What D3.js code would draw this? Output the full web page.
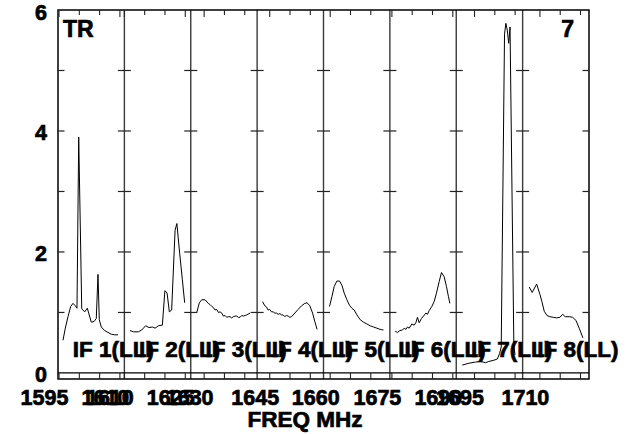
<!DOCTYPE html>
<html>
<head>
<meta charset="utf-8">
<script src="https://cdn.jsdelivr.net/npm/d3@7"></script>
<style>
    body { margin: 0; background: #fff; }
    svg { display: block; }
    text { font-family: 'Liberation Sans', Arial, Helvetica, sans-serif; font-weight: 700; fill: #000; stroke: #000; stroke-width: 0.7px; }
</style>
</head>
<body>
<div id="chart"></div>
<script>
// one panel per IF, each with its own frequency range (MHz)
const ifNames = ['IF 1(LL)', 'IF 2(LL)', 'IF 3(LL)', 'IF 4(LL)', 'IF 5(LL)', 'IF 6(LL)', 'IF 7(LL)', 'IF 8(LL)'];
const panelStart = [1594.75, 1610.0, 1626.7, 1641.9, 1658.35, 1674.5, 1690.5, 1705.74];
const panelSpan = 16.35;
const yMinorTicks = [1, 2, 3, 4, 5];
const yLabels = [0, 2, 4, 6];

// [freq MHz, amplitude]
const if1 = [[1595.98, 0.54], [1596.55, 0.74], [1597.21, 0.93], [1597.88, 1.10], [1598.44, 1.15], [1599.01, 1.11],
    [1599.43, 1.07], [1599.85, 3.90], [1600.6, 1.06], [1601.33, 1.01], [1601.97, 1.07], [1602.31, 0.99],
    [1602.95, 0.84], [1603.62, 0.85], [1604.18, 0.90], [1604.6, 1.63], [1604.92, 0.88], [1605.41, 0.76],
    [1606.25, 0.70], [1607.06, 0.67], [1607.88, 0.64], [1608.71, 0.63], [1609.53, 0.63]];
const if2 = [[1611.40, 0.70], [1612.22, 0.68], [1613.45, 0.68], [1614.26, 0.71], [1615.25, 0.78], [1616.08, 0.75],
    [1616.90, 0.76], [1617.56, 0.74], [1618.37, 0.78], [1619.36, 0.79], [1619.98, 1.36], [1620.52, 1.32],
    [1621.08, 1.01], [1621.65, 1.04], [1622.49, 2.36], [1622.93, 2.47], [1623.62, 1.98], [1624.29, 1.54],
    [1624.85, 1.16]];
const if3 = [[1628.18, 1.00], [1628.82, 1.16], [1629.41, 1.21], [1630.22, 1.21], [1631.03, 1.15], [1631.45, 1.13],
    [1631.87, 1.10], [1632.3, 1.08], [1632.69, 1.04], [1633.1, 1.05], [1633.50, 1.00], [1633.9, 1.01],
    [1634.34, 0.99], [1634.73, 0.94], [1635.15, 0.95], [1635.57, 0.92], [1636.0, 0.93], [1636.38, 0.93],
    [1636.8, 0.91], [1637.19, 0.93], [1637.6, 0.94], [1638.03, 0.94], [1638.4, 0.92], [1638.84, 0.92],
    [1639.25, 0.95], [1639.66, 0.94], [1640.1, 0.95], [1640.49, 0.96], [1641.31, 0.99]];
const if4 = [[1643.23, 1.18], [1643.80, 1.11], [1644.2, 1.09], [1644.61, 1.04], [1645.0, 1.05], [1645.45, 1.01],
    [1645.85, 1.01], [1646.26, 0.99], [1646.65, 0.99], [1647.07, 0.97], [1647.5, 0.98], [1647.91, 0.96],
    [1648.3, 0.96], [1648.72, 0.93], [1649.1, 0.95], [1649.54, 0.94], [1649.95, 0.92], [1650.37, 0.93],
    [1651.19, 0.99], [1652.00, 1.05], [1652.84, 1.11], [1653.65, 1.15], [1654.22, 1.16], [1654.88, 1.11],
    [1655.56, 0.99], [1656.11, 0.85], [1656.68, 0.72]];
const if5 = [[1659.83, 1.10], [1660.42, 1.26], [1660.99, 1.43], [1661.65, 1.52], [1662.29, 1.52], [1662.88, 1.45],
    [1663.45, 1.32], [1664.11, 1.21], [1664.75, 1.12], [1665.34, 1.07], [1665.91, 1.04], [1666.58, 0.96],
    [1667.39, 0.88], [1668.20, 0.84], [1669.04, 0.81], [1669.85, 0.78], [1670.66, 0.76], [1671.50, 0.74],
    [1672.31, 0.72], [1673.12, 0.71]];
const if6 = [[1675.81, 0.69], [1676.37, 0.67], [1676.96, 0.70], [1677.60, 0.71], [1678.02, 0.74], [1678.44, 0.72],
    [1678.83, 0.76], [1679.25, 0.74], [1679.92, 0.81], [1680.49, 0.79], [1680.90, 0.83], [1681.30, 0.92],
    [1681.72, 0.83], [1682.28, 0.90], [1682.78, 0.94], [1683.37, 0.99], [1683.76, 0.97], [1684.18, 1.03],
    [1684.84, 1.10], [1685.41, 1.18], [1685.98, 1.32], [1686.64, 1.51], [1687.21, 1.66], [1687.87, 1.59],
    [1688.44, 1.43], [1688.93, 1.26], [1689.28, 1.15]];
const if7 = [[1691.98, 0.13], [1693.60, 0.16], [1695.25, 0.18], [1696.49, 0.19], [1697.72, 0.17], [1698.53, 0.19],
    [1699.76, 0.21], [1700.60, 0.23], [1701.17, 0.32], [1701.58, 0.43], [1702.39, 5.60], [1702.72, 5.78],
    [1703.06, 5.67], [1703.43, 5.45], [1703.75, 5.72], [1704.69, 0.45], [1704.98, 0.30]];
const if8 = [[1707.37, 1.42], [1708.10, 1.33], [1709.19, 1.47], [1710.00, 1.30], [1710.49, 1.18], [1711.06, 1.02],
    [1711.73, 0.95], [1712.46, 0.93], [1713.28, 0.92], [1714.11, 0.91], [1714.93, 0.92], [1715.59, 0.97],
    [1716.23, 0.93], [1717.22, 0.93], [1718.06, 0.92], [1718.87, 0.87], [1719.68, 0.74], [1720.59, 0.58]];

const spectra = [if1, if2, if3, if4, if5, if6, if7, if8];

const width = 627;
const height = 434;
const margin = { top: 10, left: 58, right: 38, bottom: 55 };
const plotRight = width - margin.right;
const plotBottom = height - margin.bottom;
const panelWidth = (plotRight - margin.left) / ifNames.length;

const svg = d3.select('#chart')
    .append('svg')
    .attr('width', width)
    .attr('height', height);

const y = d3.scaleLinear()
    .domain([-0.1, 6])
    .range([plotBottom, margin.top]);

const xScales = panelStart.map((s, i) => d3.scaleLinear()
    .domain([s, s + panelSpan])
    .range([margin.left + i * panelWidth, margin.left + (i + 1) * panelWidth]));

// spectra
const line = x => d3.line().x(d => x(d[0])).y(d => y(d[1]));

svg.append('g')
    .selectAll('path')
    .data(spectra)
    .join('path')
    .attr('d', (d, i) => line(xScales[i])(d))
    .attr('fill', 'none')
    .attr('stroke', '#000')
    .attr('stroke-width', 1);

// panel dividers
svg.append('g')
    .selectAll('line')
    .data(d3.range(1, ifNames.length))
    .join('line')
    .attr('x1', i => xScales[i].range()[0])
    .attr('x2', i => xScales[i].range()[0])
    .attr('y1', margin.top)
    .attr('y2', plotBottom)
    .attr('stroke', '#3a3a3a')
    .attr('stroke-width', 1.4);

// frame + zero line
svg.append('rect')
    .attr('x', margin.left)
    .attr('y', margin.top)
    .attr('width', plotRight - margin.left)
    .attr('height', plotBottom - margin.top)
    .attr('fill', 'none')
    .attr('stroke', '#000')
    .attr('stroke-width', 1.5);

svg.append('line')
    .attr('x1', margin.left).attr('x2', plotRight)
    .attr('y1', y(0)).attr('y2', y(0))
    .attr('stroke', '#000')
    .attr('stroke-width', 1.2);

// y ticks: inward on the frame, crosses on the dividers
const yTickG = svg.append('g').attr('stroke', '#222').attr('stroke-width', 1.2);
const tickXs = d3.range(ifNames.length + 1).map(i => margin.left + i * panelWidth);

tickXs.forEach((tx, i) => {
    const left = i === 0 ? 0 : 6.5;
    const right = i === ifNames.length ? 0 : 6.5;
    yTickG.selectAll(null)
        .data(yMinorTicks)
        .join('line')
        .attr('x1', tx - left)
        .attr('x2', tx + right)
        .attr('y1', d => y(d))
        .attr('y2', d => y(d));
});

// x ticks, every 5 MHz inside each panel, labelled every 15 MHz
const xTickG = svg.append('g').attr('stroke', '#222').attr('stroke-width', 1.1);
const xLabelG = svg.append('g').attr('font-size', '21.5px').attr('text-anchor', 'middle');

xScales.forEach(x => {
    const [d0, d1] = x.domain();
    const ticks = d3.range(Math.ceil(d0 / 5) * 5, d1, 5);

    xTickG.selectAll(null)
        .data(ticks)
        .join('line')
        .attr('x1', d => x(d)).attr('x2', d => x(d))
        .attr('y1', plotBottom).attr('y2', y(0));

    xTickG.selectAll(null)
        .data(ticks)
        .join('line')
        .attr('x1', d => x(d)).attr('x2', d => x(d))
        .attr('y1', margin.top)
        .attr('y2', (d, i) => margin.top + (i % 3 === 0 ? 7 : 5));

    xLabelG.selectAll(null)
        .data(ticks.filter((d, i) => i % 3 === 0))
        .join('text')
        .attr('x', d => x(d) - 14.5)
        .attr('y', 405)
        .text(d => d);
});

// y labels
svg.append('g')
    .attr('font-size', '21.5px')
    .attr('text-anchor', 'end')
    .selectAll('text')
    .data(yLabels)
    .join('text')
    .attr('x', 47)
    .attr('y', d => y(d) + 9.5)
    .text(d => d);

// IF labels
svg.append('g')
    .attr('font-size', '22.5px')
    .selectAll('text')
    .data(ifNames)
    .join('text')
    .attr('x', (d, i) => xScales[i].range()[0] + 14.7)
    .attr('y', 357)
    .text(d => d);

svg.append('text')
    .attr('x', 63)
    .attr('y', 37)
    .attr('font-size', '23px')
    .text('TR');

svg.append('text')
    .attr('x', 574)
    .attr('y', 37)
    .attr('font-size', '23px')
    .attr('text-anchor', 'end')
    .text('7');

svg.append('text')
    .attr('x', 305)
    .attr('y', 426.5)
    .attr('font-size', '22.5px')
    .attr('text-anchor', 'middle')
    .text('FREQ MHz');
</script>
</body>
</html>
